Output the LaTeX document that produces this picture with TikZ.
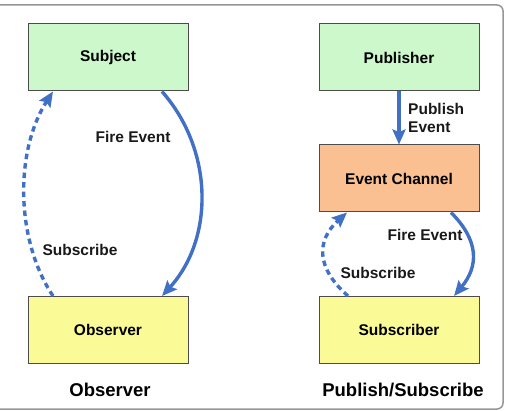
\documentclass[tikz,border=0pt]{standalone}
\usepackage{fontspec}
\setmainfont{Liberation Sans}
\usetikzlibrary{arrows.meta, positioning, calc}
\definecolor{boxgreen}{RGB}{204,248,204}
\definecolor{boxorange}{RGB}{250,192,146}
\definecolor{boxyellow}{RGB}{250,250,150}
\definecolor{arrowblue}{RGB}{66,112,196}
\definecolor{framegray}{RGB}{150,150,150}

\begin{document}
\begin{tikzpicture}[
  x=1pt, y=-1pt,
  font=\bfseries\fontsize{15.5}{18}\selectfont,
  every node/.style={align=center},
  compbox/.style={draw=black!70, fill=#1, line width=1pt,
                  minimum width=160pt, minimum height=67pt, inner sep=0pt},
  evt/.style={-{Stealth[length=15pt,width=13pt,inset=2.5pt]}, draw=arrowblue, line width=3.4pt},
  subs/.style={evt, dash pattern=on 5.5pt off 4pt},
  lbl/.style={inner sep=1pt, text=black!90},
  title/.style={font=\bfseries\fontsize{18.5}{22}\selectfont},
]

%% canvas and frame
\useasboundingbox (0,0) rectangle (511,411);
\draw[framegray, line width=1.5pt, rounded corners=6pt] (-10,5) rectangle (503,409);

%% column centres
\def\xL{108}   % Observer column
\def\xR{399}   % Publish/Subscribe column

%% Observer pattern
\node[compbox=boxgreen]  (subject)  at (\xL,57.5) {Subject};
\node[compbox=boxyellow] (observer) at (\xL,330)  {Observer};

\draw[evt]  ([xshift=54pt]subject.south) .. controls +(52,59) and +(52,-57) .. ([xshift=54pt]observer.north);
\draw[subs] ([xshift=-55pt]observer.north) .. controls +(-38,-57) and +(-38,59) .. ([xshift=-55pt]subject.south);

\node[lbl] at (133,137) {Fire Event};
\node[lbl] at (80,250)  {Subscribe};
\node[title] at (110,390) {Observer};

%% Publish/Subscribe pattern
\node[compbox=boxgreen]  (publisher)  at (\xR,57.5)  {Publisher};
\node[compbox=boxorange] (channel)    at (\xR,178.5) {Event Channel};
\node[compbox=boxyellow] (subscriber) at (\xR,330)   {Subscriber};

\draw[evt] (publisher) -- (channel);
\node[lbl, anchor=west, align=left] at (407,118) {Publish\\Event};

\draw[evt]  ([xshift=52pt]channel.south) .. controls +(28,28) and +(25,-30) .. ([xshift=55pt]subscriber.north);
\draw[subs] ([xshift=-51pt]subscriber.north) .. controls +(-32,-28) and +(-31,28) .. ([xshift=-52pt]channel.south);

\node[lbl] at (425,235) {Fire Event};
\node[lbl] at (378,273) {Subscribe};
\node[title] at (403,390) {Publish/Subscribe};

\end{tikzpicture}
\end{document}
